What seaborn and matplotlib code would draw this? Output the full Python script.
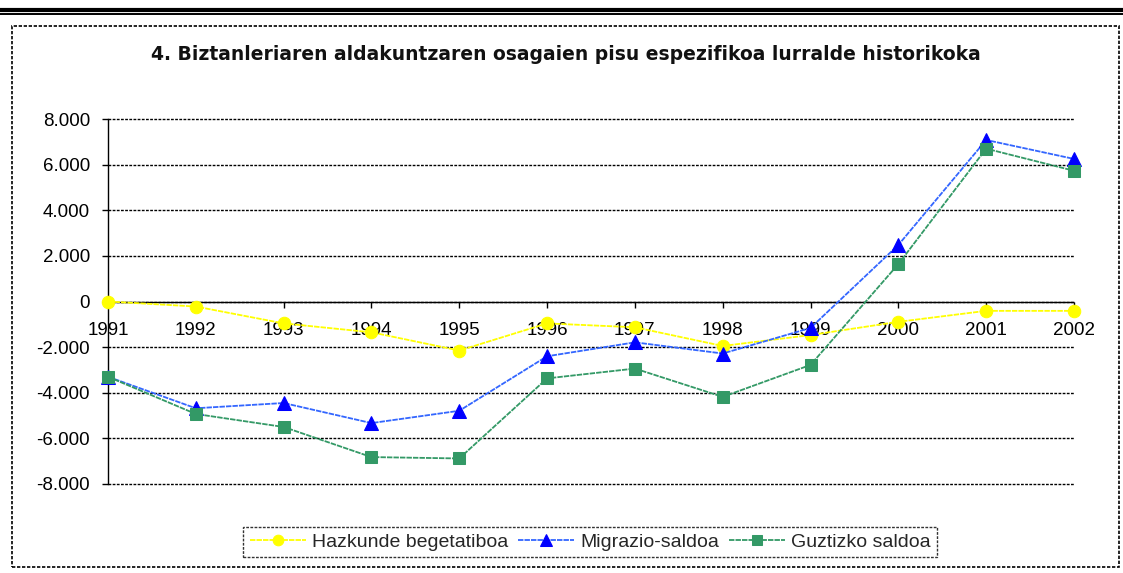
import matplotlib
matplotlib.use("Agg")
import matplotlib.pyplot as plt
import seaborn as sns
import numpy as np
import pandas as pd
from matplotlib.lines import Line2D
from matplotlib.patches import Rectangle
from matplotlib.ticker import FuncFormatter

years = [1991, 1992, 1993, 1994, 1995, 1996, 1997, 1998, 1999, 2000, 2001, 2002]
hazkunde = [0, -220, -960, -1350, -2150, -960, -1130, -1950, -1470, -890, -410, -410]
migrazio = [-3300, -4680, -4450, -5330, -4790, -2400, -1790, -2280, -1160, 2480, 7080, 6250]
guztizko = [-3300, -4930, -5500, -6820, -6880, -3370, -2940, -4180, -2780, 1640, 6700, 5730]
series_names = ["Hazkunde begetatiboa", "Migrazio-saldoa", "Guztizko saldoa"]
title = "4. Biztanleriaren aldakuntzaren osagaien pisu espezifikoa lurralde historikoka"
yticks = [-8000, -6000, -4000, -2000, 0, 2000, 4000, 6000, 8000]

sns.set_theme(style="white")
plt.rcParams['font.family'] = ['Liberation Sans', 'DejaVu Sans']

W, H = 1123, 573
fig = plt.figure(figsize=(W / 100, H / 100), dpi=100)
fig.patch.set_facecolor("white")

# header double line
fig.add_artist(Line2D([0, 1], [1 - 9.5 / H, 1 - 9.5 / H], color="black", lw=3.0, transform=fig.transFigure))
fig.add_artist(Line2D([0, 1], [1 - 14 / H, 1 - 14 / H], color="black", lw=1.4, transform=fig.transFigure))
# outer dashed chart frame
fig.add_artist(Rectangle((12 / W, 1 - 567 / H), (1119 - 12) / W, (567 - 26) / H,
                         transform=fig.transFigure, fill=False, edgecolor="black",
                         lw=1.2, linestyle=(0, (2, 1))))

left, right, top, bottom = 108, 1074, 119, 484
ax = fig.add_axes([left / W, 1 - bottom / H, (right - left) / W, (bottom - top) / H])
ax.set_facecolor("white")

styles = [
    dict(color="#FFFF00", marker="o", mfc="#FFFF00", mec="#FFFF00", ms=9),
    dict(color="#3366FF", marker="^", mfc="#0000FF", mec="#0000FF", ms=10),
    dict(color="#339966", marker="s", mfc="#339966", mec="#339966", ms=8.5),
]
for name, vals, st in zip(series_names, [hazkunde, migrazio, guztizko], styles):
    sns.lineplot(x=years, y=vals, ax=ax, color=st["color"], marker=st["marker"],
                 markerfacecolor=st["mfc"], markeredgecolor=st["mec"], markersize=st["ms"],
                 linewidth=1.3, linestyle=(0, (3, 0.6)), label=name, clip_on=False, zorder=3)

ax.set_xlim(1991, 2002)
ax.set_ylim(-8000, 8000)
ax.set_yticks(yticks)
ax.yaxis.set_major_formatter(FuncFormatter(lambda v, p: f"{int(v):,}".replace(",", ".")))
ax.set_xticks(years)
ax.set_xticklabels([str(y) for y in years])

for y in yticks:
    ax.axhline(y, color="black", lw=1.0, linestyle=(0, (2, 1)), zorder=1, clip_on=False)

for s in ["top", "right"]:
    ax.spines[s].set_visible(False)
ax.spines["left"].set_color("black")
ax.spines["left"].set_linestyle((0, (2, 1)))
ax.spines["left"].set_linewidth(1.0)
ax.spines["bottom"].set_position(("data", 0))
ax.spines["bottom"].set_color("black")
ax.spines["bottom"].set_linewidth(1.0)
ax.spines["bottom"].set_linestyle((0, (2, 1)))

ax.tick_params(axis="y", direction="out", length=4, width=1, color="black", pad=9,
               labelsize=13.5, labelcolor="black", left=True)
ax.tick_params(axis="x", direction="out", length=4, width=1, color="black", pad=11,
               labelsize=13.5, labelcolor="black", bottom=True)
ax.set_xlabel("")
ax.set_ylabel("")
ax.grid(False)

fig.text(566 / W, 1 - 55 / H, title, ha="center", va="center",
         fontsize=13.5, fontweight="bold", color="#111111", family="DejaVu Sans")

leg = ax.legend(loc="center", bbox_to_anchor=((590 - left) / (right - left), (bottom - 542) / (bottom - top)),
                ncol=3, frameon=True, fancybox=False, fontsize=14, handlelength=2.9,
                handletextpad=0.3, columnspacing=0.5, borderpad=0.32, edgecolor="black",
                markerscale=0.85, borderaxespad=0)
leg.get_frame().set_linewidth(1.0)
leg.get_frame().set_linestyle((0, (2, 1)))

fig.savefig("out.png", dpi=100, facecolor="white")
